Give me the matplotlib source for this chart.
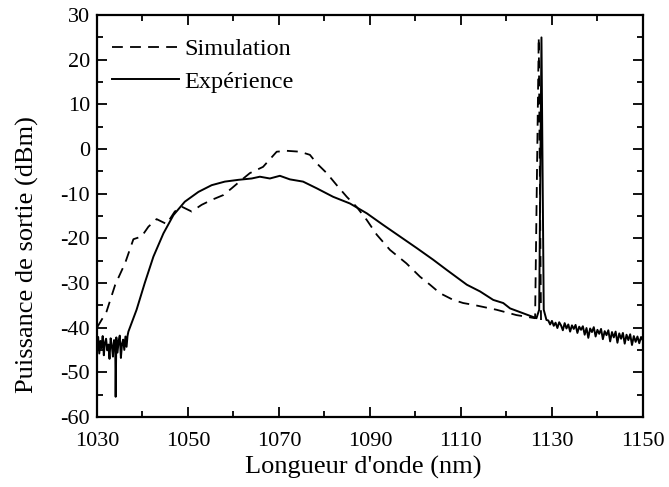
import numpy as np
import matplotlib
matplotlib.use("Agg")
import matplotlib.pyplot as plt
from matplotlib.ticker import MultipleLocator

plt.rcParams['font.family'] = ['Liberation Serif', 'DejaVu Serif']
plt.rcParams['axes.unicode_minus'] = False

# simulation (dashed)
sim_x = [1030, 1032.1, 1034, 1036.2, 1038, 1039.8, 1041.3, 1043.1, 1045.3, 1047.1,
         1048.6, 1050.8, 1053, 1055.2, 1057.8, 1059.6, 1061.8, 1063.6, 1066.5, 1069.5,
         1071.7, 1074.6, 1076.8, 1078.3, 1080.5, 1082.7, 1084.9, 1087.1, 1089.3, 1091.5,
         1094.4, 1098, 1101, 1103.2, 1105.4, 1108.3, 1110.5, 1112.7, 1117.8, 1122.2,
         1126.3, 1127.1, 1127.6]
sim_y = [-40, -36.4, -30.4, -25.5, -20.2, -19.6, -17.4, -15.7, -16.8, -14,
         -12.9, -14, -12.5, -11.4, -10.3, -8.8, -6.9, -5.4, -4, -0.6,
         -0.4, -0.6, -1.3, -3.2, -5.4, -8.1, -10.7, -13, -15.9, -19.2,
         -22.6, -25.6, -28.6, -30.4, -32.3, -33.8, -34.5, -34.9, -36, -37.2,
         -37.9, 25, -38.3]

# experiment (solid): noise floor on the left
exp_left_x = [1030.0, 1030.25, 1030.5, 1030.75, 1031.0, 1031.25, 1031.5, 1031.75, 1032.0, 1032.25,
              1032.5, 1032.75, 1033.0, 1033.25, 1033.5, 1033.75, 1034.0, 1034.1, 1034.25, 1034.5,
              1034.75, 1035.0, 1035.25, 1035.5, 1035.75, 1036.0, 1036.25, 1036.5, 1036.7]
exp_left_y = [-43.5, -42.1, -45.8, -43.0, -44.6, -41.9, -46.2, -43.3, -42.5, -45.1,
              -43.8, -47.0, -42.4, -44.0, -46.5, -42.8, -43.2, -55.5, -42.2, -45.6,
              -43.1, -41.8, -46.8, -43.6, -42.7, -45.0, -42.0, -44.3, -41.9]

# experiment: main spectrum and laser line
exp_mid_x = [1036.9, 1038.7, 1040.5, 1042.4, 1044.6, 1046.8, 1049.3, 1052.3, 1055.2, 1058.1,
             1061.1, 1064, 1065.8, 1068, 1070.2, 1072.4, 1075.3, 1078.3, 1081.9, 1085.6,
             1089.3, 1092.9, 1096.6, 1100.3, 1103.9, 1106.9, 1111.3, 1114.2, 1117.1, 1119.3,
             1120.8, 1123.7, 1126.6, 1127.2, 1127.7, 1128.2, 1128.8]
exp_mid_y = [-40.9, -36, -30, -24.1, -18.9, -14.8, -11.8, -9.6, -8.1, -7.3,
             -6.9, -6.6, -6.2, -6.6, -6, -6.8, -7.3, -8.8, -10.7, -12.2,
             -14.4, -17, -19.6, -22.2, -24.8, -27.1, -30.4, -31.9, -33.8, -34.5,
             -35.7, -36.8, -37.9, -36, 25, -36, -38.3]

# experiment: noise floor on the right
exp_right_x = [1129.2, 1129.6, 1130.0, 1130.4, 1130.8, 1131.2, 1131.6, 1132.0, 1132.4, 1132.8,
               1133.2, 1133.6, 1134.0, 1134.4, 1134.8, 1135.2, 1135.6, 1136.0, 1136.4, 1136.8,
               1137.2, 1137.6, 1138.0, 1138.4, 1138.8, 1139.2, 1139.6, 1140.0, 1140.4, 1140.8,
               1141.2, 1141.6, 1142.0, 1142.4, 1142.8, 1143.2, 1143.6, 1144.0, 1144.4, 1144.8,
               1145.2, 1145.6, 1146.0, 1146.4, 1146.8, 1147.2, 1147.6, 1148.0, 1148.4, 1148.8,
               1149.2, 1149.6, 1150.0]
exp_right_y = [-38.4, -39.3, -38.5, -39.6, -38.9, -40.1, -38.8, -39.5, -40.6, -39.0,
               -40.2, -39.3, -40.9, -39.5, -40.3, -39.4, -41.2, -39.8, -40.5, -39.7,
               -41.6, -40.1, -42.3, -40.2, -41.0, -39.9, -42.0, -40.5, -41.4, -40.3,
               -42.6, -40.8, -41.7, -40.6, -43.1, -41.0, -42.2, -40.9, -43.4, -41.3,
               -42.5, -41.2, -43.6, -41.6, -42.8, -41.5, -43.9, -41.9, -43.2, -42.0,
               -43.5, -42.1, -42.9]

exp_x = exp_left_x + exp_mid_x + exp_right_x
exp_y = exp_left_y + exp_mid_y + exp_right_y

x_ticks = [1030, 1050, 1070, 1090, 1110, 1130, 1150]

fig = plt.figure(figsize=(6.69, 4.87), dpi=100)
ax = fig.add_axes([0.145, 0.144, 0.816, 0.825])

ax.plot(sim_x, sim_y, color='black', lw=1.3, ls=(0, (6, 4)), label='Simulation')
ax.plot(exp_x, exp_y, color='black', lw=1.4, label='Expérience')

ax.set_xlim(1030, 1150)
ax.set_ylim(-60, 30)
ax.set_xticks(x_ticks)
ax.xaxis.set_minor_locator(MultipleLocator(10))
ax.yaxis.set_major_locator(MultipleLocator(10))
ax.yaxis.set_minor_locator(MultipleLocator(5))
ax.tick_params(which='both', direction='in', top=True, right=True, width=1.3, labelsize=16)
ax.tick_params(which='major', length=7, pad=5)
ax.tick_params(axis='x', which='major', pad=11)
ax.tick_params(which='minor', length=4)
for s in ax.spines.values():
    s.set_linewidth(1.6)

ax.set_xlabel("Longueur d'onde (nm)", fontsize=19)
ax.set_ylabel("Puissance de sortie (dBm)", fontsize=19)
ax.xaxis.set_label_coords(0.487, -0.097)
ax.yaxis.set_label_coords(-0.107, 0.403)

ax.legend(loc='upper left', frameon=False, fontsize=17.5, handlelength=2.75,
          handletextpad=0.25, borderpad=0, borderaxespad=0, labelspacing=0.42,
          bbox_to_anchor=(0.027, 0.942))

fig.savefig('out.png', dpi=100)
